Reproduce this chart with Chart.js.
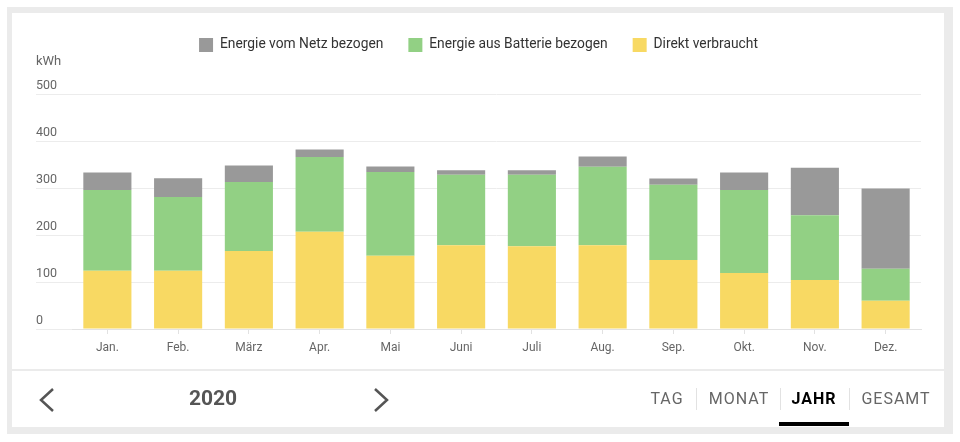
<!DOCTYPE html>
<html lang="de">
<head>
<meta charset="utf-8">
<title>Energie 2020</title>
<script src="https://cdn.jsdelivr.net/npm/chart.js@4.4.1/dist/chart.umd.min.js"></script>
<style>
  html, body { margin: 0; padding: 0; width: 960px; height: 442px; overflow: hidden; background: #fff; font-family: Roboto, sans-serif; }
  #frame { position: absolute; left: 7px; top: 7px; width: 946px; height: 427px; background: #ebebeb; }
  #chart-card { position: absolute; left: 12px; top: 13px; width: 932px; height: 356px; background: #fff; }
  #nav-card { position: absolute; left: 12px; top: 371px; width: 932px; height: 56px; background: #fff; }
  #unit { position: absolute; left: 36px; top: 53px; font-size: 13px; line-height: 16px; color: #666; }
  #year { position: absolute; left: 163px; top: 385px; width: 100px; line-height: 26px; text-align: center; font-size: 21px; font-weight: bold; color: #555; }
  .tab { position: absolute; top: 389px; width: 90px; line-height: 20px; text-align: center; font-size: 16px; letter-spacing: 1px; color: #666; }
  .tab.active { color: #000; font-weight: bold; }
  .sep { position: absolute; top: 388px; width: 1px; height: 22px; background: #e2e2e2; }
  #underline { position: absolute; left: 779px; top: 422px; width: 70px; height: 4px; background: #000; }
  #arrows { position: absolute; left: 0; top: 0; }
</style>
</head>
<body>
<div id="frame"></div>
<div id="chart-card"><canvas id="energyChart"></canvas></div>
<div id="nav-card"></div>
<div id="unit">kWh</div>
<svg id="arrows" width="960" height="442">
  <polyline points="53,389 41,400 53,411" fill="none" stroke="#555" stroke-width="2.5"/>
  <polyline points="375,389 387,400 375,411" fill="none" stroke="#555" stroke-width="2.5"/>
</svg>
<div id="year">2020</div>
<div class="tab" style="left:622px">TAG</div>
<div class="sep" style="left:696px"></div>
<div class="tab" style="left:694px">MONAT</div>
<div class="sep" style="left:780px"></div>
<div class="tab active" style="left:769px">JAHR</div>
<div class="sep" style="left:849px"></div>
<div class="tab" style="left:851px">GESAMT</div>
<div id="underline"></div>

<script>
// Datos del gráfico (kWh por mes)
const months = ["Jan.", "Feb.", "März", "Apr.", "Mai", "Juni", "Juli", "Aug.", "Sep.", "Okt.", "Nov.", "Dez."];
const gridEnergy = [37, 40, 35, 16, 12, 10, 10, 22, 13, 37, 101, 171];
const batteryEnergy = [172, 157, 147, 159, 178, 150, 152, 167, 160, 177, 138, 68];
const directEnergy = [124, 124, 166, 207, 156, 178, 176, 178, 147, 119, 104, 60];
const yTickValues = [0, 100, 200, 300, 400, 500];

Chart.defaults.font.family = "Roboto";

// Añadimos espacio debajo de la leyenda
const legendSpacing = {
  id: "legendSpacing",
  beforeInit(chart) {
    const originalFit = chart.legend.fit;
    chart.legend.fit = function () {
      originalFit.bind(chart.legend)();
      this.height += 32;
    };
  },
};

function buildDataset(label, data, color) {
  return {
    label: label,
    data: data,
    backgroundColor: color,
    borderWidth: 0,
    barPercentage: 0.68,
    categoryPercentage: 1,
  };
}

function initializeChart() {
  const ctx = document.getElementById("energyChart").getContext("2d");
  new Chart(ctx, {
    type: "bar",
    data: {
      labels: months,
      // el primer dataset queda abajo en la pila
      datasets: [
        buildDataset("Direkt verbraucht", directEnergy, "#f8d963"),
        buildDataset("Energie aus Batterie bezogen", batteryEnergy, "#92d084"),
        buildDataset("Energie vom Netz bezogen", gridEnergy, "#999999"),
      ],
    },
    options: {
      responsive: true,
      maintainAspectRatio: false,
      animation: false,
      layout: { padding: { left: 24, right: 23, top: 0, bottom: 6.6 } },
      plugins: {
        tooltip: { enabled: false },
        legend: {
          reverse: true,
          labels: {
            boxWidth: 14,
            boxHeight: 14,
            padding: 25,
            color: "#333",
            font: { size: 13.8 },
          },
        },
      },
      scales: {
        x: {
          stacked: true,
          border: { color: "#e2e2e2" },
          grid: { drawOnChartArea: false, drawTicks: true, tickLength: 5, color: "#e2e2e2", offset: false },
          ticks: { color: "#666", font: { size: 12 }, padding: 7 },
        },
        y: {
          stacked: true,
          min: 0,
          max: 500,
          afterBuildTicks(scale) {
            scale.ticks = yTickValues.map((v) => ({ value: v }));
          },
          afterFit(scale) {
            scale.width = 36;
          },
          border: { display: false },
          grid: { color: "#ececec", drawTicks: true, tickLength: 36 },
          ticks: { crossAlign: "far", labelOffset: -8, padding: 0, color: "#666", font: { size: 12.5 } },
        },
      },
    },
    plugins: [legendSpacing],
  });
}

initializeChart();
</script>
</body>
</html>
